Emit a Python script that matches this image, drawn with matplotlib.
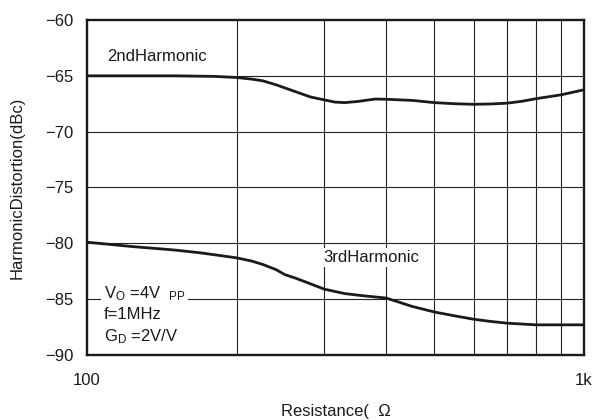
import numpy as np
import matplotlib
matplotlib.use('Agg')
import matplotlib.pyplot as plt
from matplotlib.ticker import FixedLocator, NullLocator

plt.rcParams['font.family'] = ['Liberation Sans', 'DejaVu Sans']
plt.rcParams['mathtext.fontset'] = 'custom'
plt.rcParams['mathtext.rm'] = 'Liberation Sans'
plt.rcParams['mathtext.it'] = 'Liberation Sans'

# values
res_2nd = [100, 150, 180, 200, 215, 226, 240, 262, 282, 300, 315, 330, 350, 380, 400, 451,
           500, 550, 600, 650, 700, 750, 800, 900, 1000]
hd2 = [-65.0, -65.0, -65.05, -65.15, -65.3, -65.45, -65.8, -66.4, -66.9, -67.15, -67.35, -67.4,
       -67.3, -67.08, -67.1, -67.2, -67.4, -67.5, -67.55, -67.52, -67.45, -67.28, -67.05, -66.7, -66.25]

res_3rd = [100, 124, 150, 169, 200, 215, 226, 240, 250, 262, 275, 300, 330, 360, 400, 451,
           500, 550, 600, 650, 700, 800, 900, 1000]
hd3 = [-79.9, -80.3, -80.6, -80.85, -81.3, -81.6, -81.9, -82.35, -82.8, -83.1, -83.45, -84.1,
       -84.5, -84.7, -84.9, -85.65, -86.15, -86.5, -86.8, -87.0, -87.15, -87.3, -87.3, -87.3]

y_ticks = [-90, -85, -80, -75, -70, -65, -60]
x_ticks = [100, 1000]
x_labels = ['100', '1k']

fig = plt.figure(figsize=(5.95, 4.2), dpi=100)
ax = fig.add_axes([0.1462, 0.1548, 0.8353, 0.7976])

ax.set_xscale('log')
ax.set_xlim(100, 1000)
ax.set_ylim(-90, -60)

# grid
for xv in range(200, 1000, 100):
    ax.axvline(xv, color='#222222', lw=0.8, zorder=1)
for yv in y_ticks[1:-1]:
    ax.axhline(yv, color='#222222', lw=0.8, zorder=1)

ax.plot(res_2nd, hd2, color='#1a1a1a', lw=2.0, zorder=3, solid_joinstyle='round')
ax.plot(res_3rd, hd3, color='#1a1a1a', lw=2.0, zorder=3, solid_joinstyle='round')

fs = 12
ax.xaxis.set_major_locator(FixedLocator(x_ticks))
ax.xaxis.set_minor_locator(NullLocator())
ax.set_xticklabels(x_labels)
ax.set_yticks(y_ticks)
ax.set_yticklabels(['\u221290', '\u221285', '\u221280', '\u221275', '\u221270', '\u221265', '\u221260'])
ax.tick_params(axis='both', length=0, labelsize=fs, colors='#1a1a1a')
ax.tick_params(axis='x', pad=13)
ax.tick_params(axis='y', pad=10)

for s in ax.spines.values():
    s.set_linewidth(1.7)
    s.set_color('#1a1a1a')

ax.set_xlabel('Resistance(  \u03a9', fontsize=fs, color='#1a1a1a', va='center')
ax.set_ylabel('HarmonicDistortion(dBc)', fontsize=fs, color='#1a1a1a')
ax.xaxis.set_label_coords(0.5, -0.168)
ax.yaxis.set_label_coords(-0.125, 0.5)

ax.text(110, -63.3, '2ndHarmonic', fontsize=fs, va='center', ha='left', zorder=4,
        bbox=dict(facecolor='white', edgecolor='none', pad=1.5), color='#1a1a1a')
ax.text(299, -81.3, '3rdHarmonic', fontsize=fs, va='center', ha='left', zorder=4,
        bbox=dict(facecolor='white', edgecolor='none', pad=1.5), color='#1a1a1a')

cond = 'V$_{\\rm O}$ =4V  $_{\\rm PP}$\nf=1MHz\nG$_{\\rm D}$ =2V/V'
ax.text(108, -86.4, cond, fontsize=fs, va='center', ha='left', zorder=4, linespacing=1.35,
        bbox=dict(facecolor='white', edgecolor='none', pad=2), color='#1a1a1a')

fig.savefig('out.png', dpi=100)
